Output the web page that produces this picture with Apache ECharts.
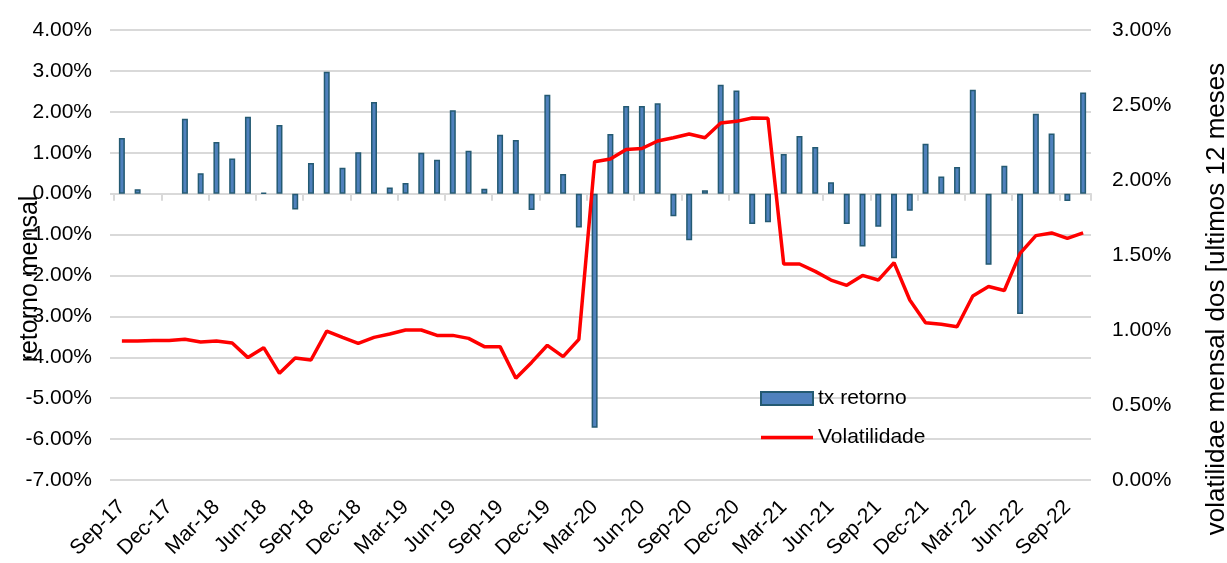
<!DOCTYPE html>
<html>
<head>
<meta charset="utf-8">
<script src="https://cdn.jsdelivr.net/npm/echarts@6/dist/echarts.min.js"></script>
<style>
  html, body { margin: 0; padding: 0; background: #fff; }
  #chart { width: 1227px; height: 563px; }
</style>
</head>
<body>
<div id="chart"></div>
<script>
// meses (eixo categoria)
const meses = [
  'Sep-17', 'Oct-17', 'Nov-17', 'Dec-17', 'Jan-18', 'Feb-18', 'Mar-18', 'Apr-18', 'May-18', 'Jun-18',
  'Jul-18', 'Aug-18', 'Sep-18', 'Oct-18', 'Nov-18', 'Dec-18', 'Jan-19', 'Feb-19', 'Mar-19', 'Apr-19',
  'May-19', 'Jun-19', 'Jul-19', 'Aug-19', 'Sep-19', 'Oct-19', 'Nov-19', 'Dec-19', 'Jan-20', 'Feb-20',
  'Mar-20', 'Apr-20', 'May-20', 'Jun-20', 'Jul-20', 'Aug-20', 'Sep-20', 'Oct-20', 'Nov-20', 'Dec-20',
  'Jan-21', 'Feb-21', 'Mar-21', 'Apr-21', 'May-21', 'Jun-21', 'Jul-21', 'Aug-21', 'Sep-21', 'Oct-21',
  'Nov-21', 'Dec-21', 'Jan-22', 'Feb-22', 'Mar-22', 'Apr-22', 'May-22', 'Jun-22', 'Jul-22', 'Aug-22',
  'Sep-22', 'Oct-22'
];

// tx retorno (% ao mês)
const txRetorno = [
  1.36, 0.11, null, null, 1.83, 0.50, 1.26, 0.86, 1.88, 0.02,
  1.68, -0.39, 0.75, 2.98, 0.63, 1.01, 2.24, 0.15, 0.26, 1.00,
  0.83, 2.04, 1.05, 0.12, 1.44, 1.31, -0.40, 2.42, 0.48, -0.83,
  -5.72, 1.46, 2.14, 2.14, 2.21, -0.55, -1.14, 0.08, 2.66, 2.52,
  -0.74, -0.70, 0.97, 1.41, 1.14, 0.28, -0.74, -1.29, -0.81, -1.58,
  -0.42, 1.22, 0.42, 0.65, 2.54, -1.74, 0.68, -2.94, 1.95, 1.47,
  -0.18, 2.47
];

// volatilidade mensal dos ultimos 12 meses (%)
const volatilidade = [
  0.927, 0.927, 0.930, 0.930, 0.938, 0.920, 0.927, 0.913, 0.816, 0.882,
  0.711, 0.813, 0.800, 0.993, 0.951, 0.911, 0.951, 0.973, 1.000, 1.000,
  0.964, 0.964, 0.944, 0.889, 0.889, 0.678, 0.784, 0.898, 0.822, 0.938,
  2.122, 2.140, 2.204, 2.210, 2.260, 2.282, 2.307, 2.282, 2.380, 2.391,
  2.413, 2.411, 1.440, 1.440, 1.391, 1.333, 1.298, 1.364, 1.333, 1.449,
  1.200, 1.049, 1.038, 1.022, 1.227, 1.290, 1.263, 1.511, 1.629, 1.647,
  1.611, 1.647
];

const FONT = 'Liberation Sans, Arial, sans-serif';
const pct = v => v.toFixed(2) + '%';

const chart = echarts.init(document.getElementById('chart'));

const option = {
  animation: false,
  textStyle: { fontFamily: FONT, color: '#000' },
  grid: { left: 114, right: 136, top: 30, bottom: 83, outerBoundsMode: 'none', containLabel: false },
  legend: {
    orient: 'vertical',
    left: 760,
    top: 388,
    padding: 0,
    itemWidth: 52,
    itemHeight: 13,
    itemGap: 18,
    textStyle: { fontSize: 21, color: '#000', fontFamily: FONT },
    data: [
      { name: 'tx retorno', icon: 'rect' },
      { name: 'Volatilidade', icon: 'path://M0,0H52V3.5H0Z' }
    ]
  },
  xAxis: [
    {
      // linha do zero com marcas a cada 3 meses
      type: 'category',
      data: meses,
      position: 'bottom',
      axisLine: { onZero: true, lineStyle: { color: '#d9d9d9', width: 2 } },
      axisTick: { show: true, interval: 2, length: 7, lineStyle: { color: '#d9d9d9', width: 2 } },
      axisLabel: { show: false },
      splitLine: { show: false }
    },
    {
      // rotulos em baixo
      type: 'category',
      data: meses,
      position: 'bottom',
      axisLine: { show: false, onZero: false },
      axisTick: { show: false },
      axisLabel: {
        interval: 2,
        rotate: 45,
        margin: 24,
        fontSize: 21,
        color: '#000',
        fontFamily: FONT
      },
      splitLine: { show: false }
    }
  ],
  yAxis: [
    {
      type: 'value',
      min: -7,
      max: 4,
      interval: 1,
      name: 'retorno mensal',
      nameLocation: 'middle',
      nameGap: 71,
      nameMoveOverlap: false,
      nameTextStyle: { fontSize: 25, color: '#000', fontFamily: FONT, padding: [0, 48, 0, 0] },
      axisLine: { show: false },
      axisTick: { show: true, length: 4, lineStyle: { color: '#d9d9d9', width: 2 } },
      axisLabel: { formatter: pct, fontSize: 21, color: '#000', margin: 22, fontFamily: FONT },
      splitLine: { lineStyle: { color: '#d9d9d9', width: 2 } }
    },
    {
      type: 'value',
      min: 0,
      max: 3,
      interval: 0.5,
      position: 'right',
      name: 'volatilidae mensal dos [ultimos 12 meses',
      nameLocation: 'middle',
      nameGap: 113,
      nameMoveOverlap: false,
      nameTextStyle: { fontSize: 26, color: '#000', fontFamily: FONT, padding: [0, 88, 0, 0] },
      axisLine: { show: false },
      axisTick: { show: false },
      axisLabel: { formatter: pct, fontSize: 21, color: '#000', margin: 21, fontFamily: FONT },
      splitLine: { show: false }
    }
  ],
  series: [
    {
      name: 'tx retorno',
      type: 'bar',
      xAxisIndex: 0,
      yAxisIndex: 0,
      data: txRetorno,
      barWidth: 6,
      itemStyle: { color: '#4f81bd', borderColor: '#245a72', borderWidth: 1.5 }
    },
    {
      name: 'Volatilidade',
      type: 'line',
      xAxisIndex: 0,
      yAxisIndex: 1,
      data: volatilidade,
      symbol: 'none',
      lineStyle: { color: '#ff0000', width: 3.5 },
      itemStyle: { color: '#ff0000' },
      z: 3
    }
  ]
};

chart.setOption(option);
</script>
</body>
</html>
